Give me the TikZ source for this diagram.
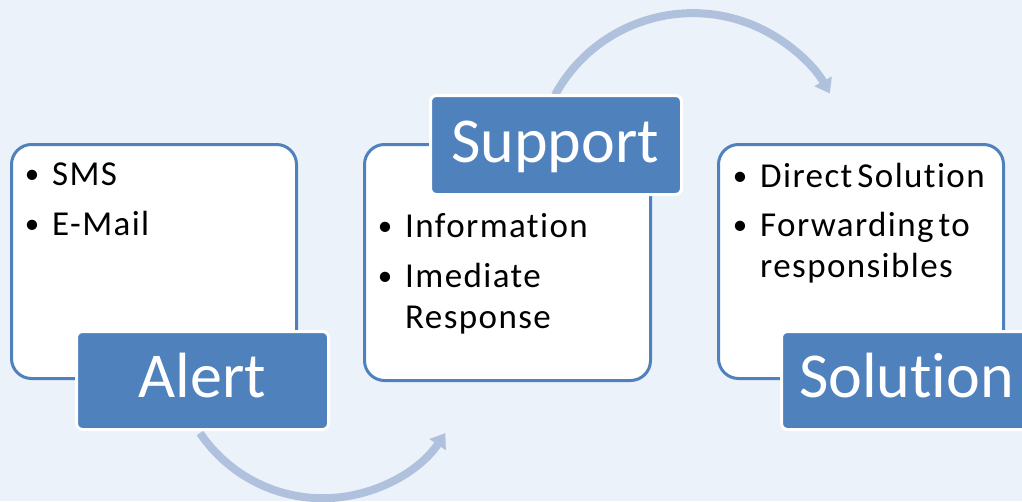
\documentclass[tikz,border=0pt]{standalone}
\usepackage{fontspec}
\setmainfont{Carlito}[Ligatures=NoCommon]
\newfontfamily\itemfont{Carlito}[Ligatures=NoCommon, LetterSpace=4]
\newcommand\itemsetup{\itemfont\fontsize{35}{41}\selectfont\spaceskip=5pt plus 1pt\relax}
\usetikzlibrary{arrows.meta}
\definecolor{bgc}{RGB}{236,242,250}
\definecolor{accent}{RGB}{79,129,189}
\definecolor{arcc}{RGB}{176,193,221}
\begin{document}
\begin{tikzpicture}[x=1pt,y=-1pt,
  panel/.style={draw=accent, line width=3pt, fill=white, rounded corners=20pt, inner sep=0pt, minimum width=285pt, minimum height=234pt},
  tag/.style={fill=accent, draw=white, line width=3pt, rounded corners=6pt, inner sep=0pt, minimum width=252pt, minimum height=98pt},
  tagtext/.style={text=white, font=\fontsize{64}{64}\selectfont, inner sep=0pt, anchor=base},
  item/.style={font=\itemsetup, inner sep=0pt, anchor=base west},
  bul/.style={font=\fontsize{29}{41}\selectfont, inner sep=0pt, anchor=base},
  flow/.style={draw=arcc, line width=8pt, -{Triangle[length=14pt,width=19pt]}}]
\useasboundingbox (0,0) rectangle (1022,501);
\clip (0,0) rectangle (1022,501);
\fill[bgc] (0,0) rectangle (1022,501);

% connectors (beneath boxes)
\coordinate (b0) at (200,433);
\coordinate (t0) at (555,95);
\draw[flow] (b0) arc[start angle=146, end angle=34, radius=148];
\draw[flow] (t0) arc[start angle=208.6, end angle=330.8, radius=157];

% panels
\node[panel] (p1) at (154,261.5) {};
\node[panel, minimum width=286pt, minimum height=236pt] (p2) at (507.5,262.5) {};
\node[panel] (p3) at (861,261.5) {};

% panel 1 text
\node[bul] (p1b1) at (32,183) {•};
\node[item] (p1t1) at (52,185) {SMS};
\node[bul] (p1b2) at (32,233) {•};
\node[item] (p1t2) at (52,235) {E-Mail};

% panel 2 text
\node[bul] (p2b1) at (385,235) {•};
\node[item] (p2t1) at (405,237) {Information};
\node[bul] (p2b2) at (385,285) {•};
\node[item] (p2t2) at (405,287) {Imediate};
\node[item] (p2t3) at (405,328) {Response};

% panel 3 text
\node[bul] (p3b1) at (740,185) {•};
\node[item] (p3t1) at (760,187) {Direct Solution};
\node[bul] (p3b2) at (740,234) {•};
\node[item] (p3t2) at (760,236) {Forwarding to};
\node[item] (p3t3) at (760,277) {responsibles};

% tags
\node[tag] (alert) at (202.5,380.5) {};
\node[tagtext] (alertT) at (202.5,397) {Alert};
\node[tag, minimum width=251pt, minimum height=99pt] (support) at (556,145) {};
\node[tagtext] (supportT) at (555,162) {Support};
\node[tag] (solution) at (907.5,380.5) {};
\node[tagtext] (solutionT) at (906.5,397) {Solution};
\end{tikzpicture}
\end{document}
